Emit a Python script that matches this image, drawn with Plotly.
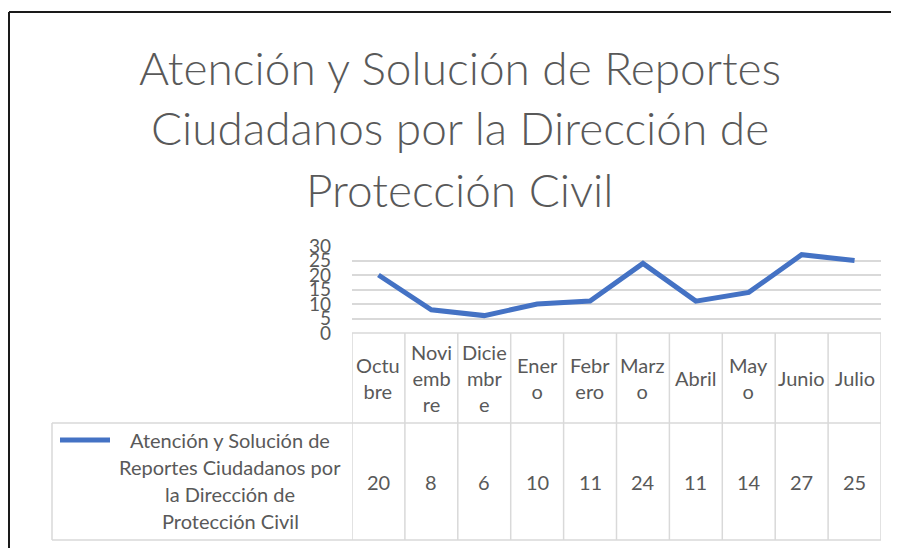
import plotly.graph_objects as go

# ---- data ----
months = ["Octubre", "Noviembre", "Diciembre", "Enero", "Febrero", "Marzo",
          "Abril", "Mayo", "Junio", "Julio"]
month_labels = ["Octu<br>bre", "Novi<br>emb<br>re", "Dicie<br>mbr<br>e", "Ener<br>o",
                "Febr<br>ero", "Marz<br>o", "Abril", "May<br>o", "Junio", "Julio"]
values = [20, 8, 6, 10, 11, 24, 11, 14, 27, 25]
series_name = "Atención y Solución de Reportes Ciudadanos por la Dirección de Protección Civil"
series_label_lines = ["Atención y Solución de", "Reportes Ciudadanos por",
                      "la Dirección de", "Protección Civil"]
title_lines = ["Atención y Solución de Reportes", "Ciudadanos por la Dirección de",
               "Protección Civil"]
y_ticks = [0, 5, 10, 15, 20, 25, 30]

W, H = 899, 548
OFF = 8  # default page body margin
FONT = "Lato"
GRAY = "#595959"
GRID = "#d9d9d9"
BLUE = "#4472C4"


def px(x):
    return (x - OFF) / W


def py(y):
    return 1 - (y - OFF) / H


x_left, x_right = 352, 881
y0_px, y30_px = 333, 246
row1_bottom, row2_bottom = 423, 540
legend_left = 52

fig = go.Figure()
fig.add_trace(go.Scatter(
    x=list(range(len(months))), y=values, mode="lines", name=series_name,
    line=dict(color=BLUE, width=5), showlegend=False, hoverinfo="x+y",
    customdata=months,
))

fig.update_layout(
    width=W, height=H, margin=dict(l=0, r=0, t=0, b=0, pad=0, autoexpand=False),
    paper_bgcolor="white", plot_bgcolor="white",
    font=dict(family=FONT, color=GRAY),
    xaxis=dict(domain=[px(x_left), px(x_right)], range=[-0.5, len(months) - 0.5],
               showgrid=False, showticklabels=False, zeroline=False, showline=False,
               fixedrange=True, automargin=False),
    yaxis=dict(domain=[py(y0_px), py(y30_px)], range=[0, 30], tickmode="array",
               tickvals=y_ticks, ticktext=[str(t) for t in y_ticks],
               showgrid=True, gridcolor=GRID, gridwidth=2, zeroline=False,
               showline=False, tickfont=dict(size=19, color=GRAY, family=FONT),
               ticklabelstandoff=20, fixedrange=True, automargin=False),
)

shapes = []
ann = []

# title
for i, t in enumerate(title_lines):
    ann.append(dict(text=t, x=px(460), y=py(67 + 61 * i), xref="paper", yref="paper",
                    xanchor="center", yanchor="middle", showarrow=False,
                    font=dict(size=46, color=GRAY, family=FONT, weight=300)))

# outer border (left and top visible)
shapes.append(dict(type="line", xref="paper", yref="paper", x0=px(9), x1=1.02,
                   y0=py(12), y1=py(12), line=dict(color="#1a1a1a", width=2)))
shapes.append(dict(type="line", xref="paper", yref="paper", x0=px(9), x1=px(9),
                   y0=py(12), y1=-0.02, line=dict(color="#1a1a1a", width=2)))

# table horizontal lines
shapes.append(dict(type="line", xref="x", yref="paper", x0=-0.5, x1=len(months) - 0.5,
                   y0=py(y0_px), y1=py(y0_px), line=dict(color=GRID, width=1.5)))
for yy in (row1_bottom, row2_bottom):
    shapes.append(dict(type="line", xref="paper", yref="paper", x0=px(legend_left),
                       x1=px(x_right), y0=py(yy), y1=py(yy),
                       line=dict(color=GRID, width=1.5)))
# table vertical lines
for k in range(len(months) + 1):
    shapes.append(dict(type="line", xref="x", yref="paper", x0=k - 0.5, x1=k - 0.5,
                       y0=py(y0_px), y1=py(row2_bottom), line=dict(color=GRID, width=1.5)))
shapes.append(dict(type="line", xref="paper", yref="paper", x0=px(legend_left),
                   x1=px(legend_left), y0=py(row1_bottom), y1=py(row2_bottom),
                   line=dict(color=GRID, width=1.5)))

# header labels and values
for i, (lab, v) in enumerate(zip(month_labels, values)):
    ann.append(dict(text=lab, x=i, y=py((y0_px + row1_bottom) / 2), xref="x", yref="paper",
                    xanchor="center", yanchor="middle", showarrow=False,
                    font=dict(size=20, color=GRAY, family=FONT)))
    ann.append(dict(text=str(v), x=i, y=py((row1_bottom + row2_bottom) / 2), xref="x",
                    yref="paper", xanchor="center", yanchor="middle", showarrow=False,
                    font=dict(size=20, color=GRAY, family=FONT)))

# legend key
shapes.append(dict(type="line", xref="paper", yref="paper", x0=px(60), x1=px(110),
                   y0=py(440), y1=py(440), line=dict(color=BLUE, width=5)))
for i, t in enumerate(series_label_lines):
    ann.append(dict(text=t, x=px(230), y=py(440 + 27 * i), xref="paper", yref="paper",
                    xanchor="center", yanchor="middle", showarrow=False,
                    font=dict(size=20, color=GRAY, family=FONT)))

fig.update_layout(shapes=shapes, annotations=ann)
fig.write_html("out.html")
